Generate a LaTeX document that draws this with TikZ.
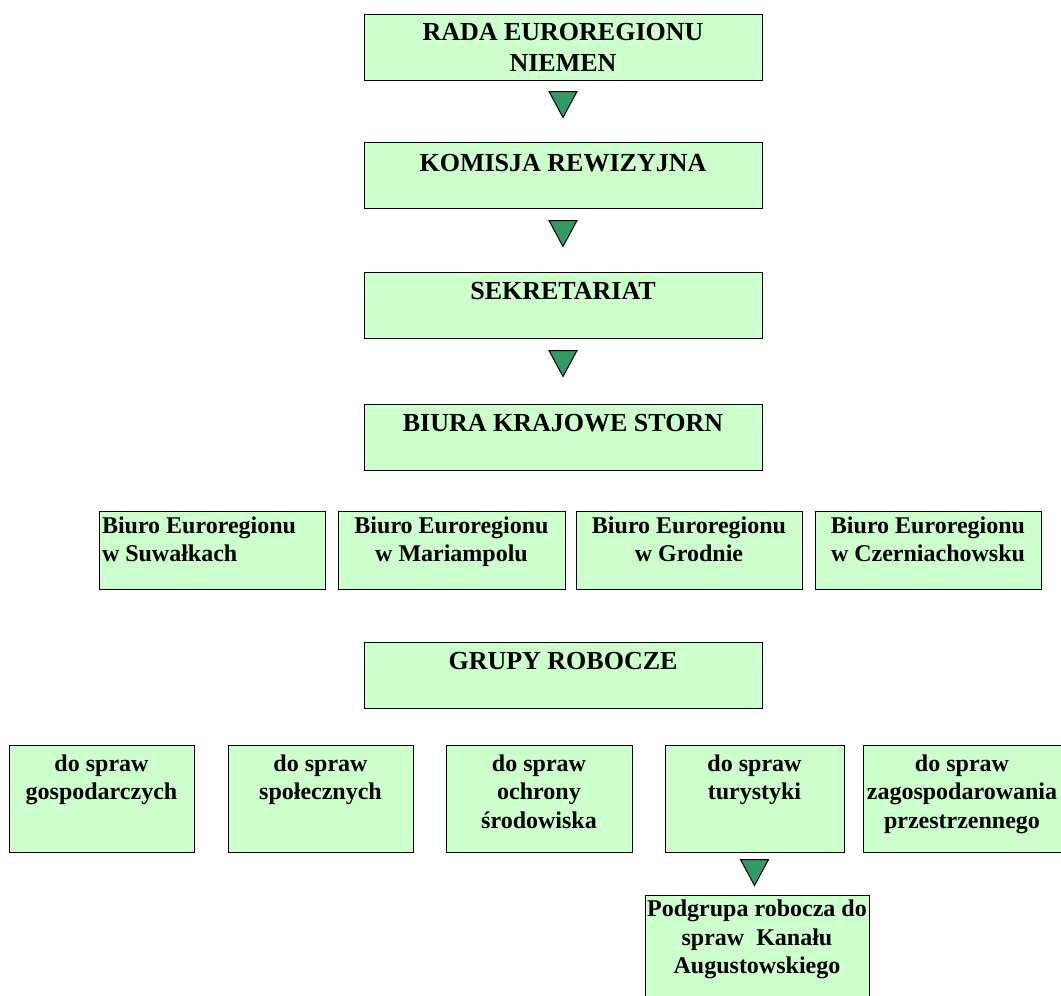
\documentclass[tikz,border=0pt]{standalone}
\usepackage{fontspec}
\setmainfont{Liberation Serif}
\definecolor{boxgreen}{HTML}{CCFFCC}
\definecolor{trigreen}{HTML}{339966}
% box text: alignment, width, height, first baseline, text
\newcommand{\btext}[5]{\parbox[c][#3][t]{#2}{#1\rule{0pt}{#4}#5}}
\newcommand{\tridown}[1]{\draw[tri] (#1) ++(-14,0) -- ++(28,0) -- ++(-14,26) -- cycle;}
\begin{document}
\begin{tikzpicture}[x=1pt,y=-1pt,
	box/.style={draw, fill=boxgreen, line width=1pt, inner sep=0pt,
		font=\bfseries\fontsize{24}{28.5}\selectfont},
	head/.style={box, font=\bfseries\fontsize{26}{31}\selectfont},
	tri/.style={draw, fill=trigreen, line width=1pt, line join=miter}]
	\useasboundingbox (0,0) rectangle (1061,996);
	
	% main chain
	\node[head] (rada) at (563,47) {\btext{\centering}{398pt}{66pt}{26pt}{RADA EUROREGIONU\\NIEMEN}};
	\node[head] (komisja) at (563,175) {\btext{\centering}{398pt}{66pt}{29pt}{KOMISJA REWIZYJNA}};
	\node[head] (sekr) at (563,305) {\btext{\centering}{398pt}{66pt}{27pt}{SEKRETARIAT}};
	\node[head] (biura) at (563,437) {\btext{\centering}{398pt}{66pt}{27pt}{BIURA KRAJOWE STORN}};
	\tridown{[yshift=-11pt]rada.south}
	\tridown{[yshift=-12pt]komisja.south}
	\tridown{[yshift=-12pt]sekr.south}
	
	% country offices
	\node[box] (suwalki) at (212,550) {\btext{\raggedright\hspace*{3pt}}{226pt}{78pt}{22pt}{Biuro Euroregionu\\\hspace*{3pt}w Suwałkach}};
	\node[box] (mariampol) at (451.5,550) {\btext{\centering}{227pt}{78pt}{22pt}{Biuro Euroregionu\\w Mariampolu}};
	\node[box] (grodno) at (689,550) {\btext{\centering}{226pt}{78pt}{22pt}{Biuro Euroregionu\\w Grodnie}};
	\node[box] (czern) at (928,550) {\btext{\centering}{226pt}{78pt}{22pt}{Biuro Euroregionu\\w Czerniachowsku}};
	
	% working groups
	\node[head] (grupy) at (563,675) {\btext{\centering}{398pt}{66pt}{27pt}{GRUPY ROBOCZE}};
	\node[box] (gosp) at (101.5,798.5) {\btext{\centering}{185pt}{107pt}{26pt}{do spraw\\gospodarczych}};
	\node[box] (spol) at (320.5,798.5) {\btext{\centering}{185pt}{107pt}{26pt}{do spraw\\społecznych}};
	\node[box] (ochr) at (539,798.5) {\btext{\centering}{186pt}{107pt}{26pt}{do spraw\\ochrony\\środowiska}};
	\node[box] (tury) at (754.5,798.5) {\btext{\centering}{179pt}{107pt}{26pt}{do spraw\\turystyki}};
	\node[box] (zagosp) at (962,798.5) {\btext{\centering}{198pt}{107pt}{26pt}{do spraw\\zagospodarowania\\przestrzennego}};
	\tridown{[yshift=-7pt]tury.south}
	\node[box, anchor=north] (kanal) at (757,895) {\btext{\centering}{224pt}{108pt}{21pt}{Podgrupa robocza do\\spraw~ Kanału\\Augustowskiego}};
\end{tikzpicture}
\end{document}
